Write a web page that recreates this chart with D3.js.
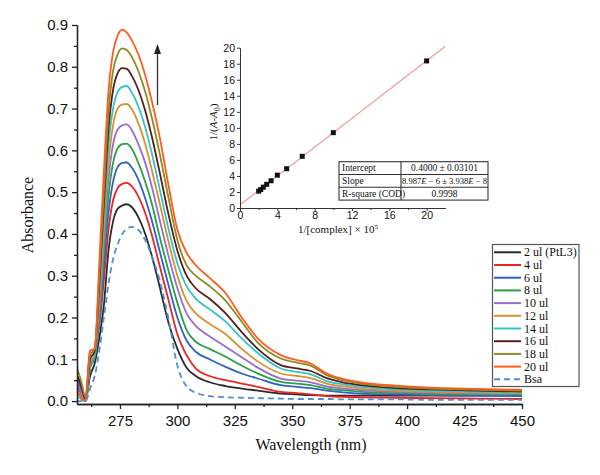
<!DOCTYPE html>
<html>
<head>
<meta charset="utf-8">
<script src="https://cdn.jsdelivr.net/npm/d3@7"></script>
<style>
  body { margin: 0; background: #fff; }
  svg { display: block; font-family: "Liberation Serif", "DejaVu Serif", serif; }
</style>
</head>
<body>
<svg id="chart" width="600" height="475"></svg>
<script>
'use strict';

// wavelength grid (nm) shared by all spectra
const wavelengths = [256, 258, 260, 262, 264, 266, 268, 270, 272, 274, 276, 278, 280, 283, 286, 289, 292, 296, 300, 304, 308, 314, 321, 328, 335, 345, 352, 358, 365, 372, 380, 395, 410, 430, 450];

const seriesNames = ["2 ul (PtL3)", "4 ul", "6 ul", "8 ul", "10 ul", "12 ul", "14 ul", "16 ul", "18 ul", "20 ul", "Bsa"];
const seriesColors = ["#2b2b2b", "#ec2424", "#2f62c2", "#27a046", "#9a6ccc", "#d8922c", "#31c4c8", "#5a1c1c", "#8b8b26", "#ff5b1c", "#4b8fd8"];

const abs2 = [.04, .02, .0, .06, .09, .15, .23, .36, .43, .46, .468, .471, .465, .44, .4, .345, .28, .19, .125, .08, .06, .045, .036, .03, .025, .018, .016, .014, .013, .013, .013, .013, .013, .013, .013];
const abs4 = [.058, .03, .005, .12, .125, .18, .29, .41, .48, .51, .52, .522, .515, .49, .45, .395, .33, .245, .16, .11, .078, .06, .05, .042, .034, .022, .019, .016, .012, .01, .009, .008, .007, .006, .005];
const abs6 = [.062, .035, .005, .08, .105, .19, .32, .45, .525, .56, .57, .571, .56, .53, .485, .43, .365, .28, .2, .145, .118, .1, .082, .066, .054, .038, .034, .031, .025, .021, .018, .016, .014, .013, .012];
const abs8 = [.03, .01, .0, .08, .105, .2, .35, .49, .57, .605, .615, .616, .605, .57, .525, .47, .4, .315, .235, .17, .142, .125, .106, .085, .066, .046, .042, .038, .03, .026, .022, .019, .017, .016, .015];
const abs10 = [.05, .02, .0, .085, .11, .22, .38, .53, .615, .65, .66, .662, .65, .615, .57, .51, .44, .35, .27, .21, .18, .155, .13, .105, .08, .054, .049, .045, .035, .03, .026, .022, .02, .018, .017];
const abs12 = [.03, .01, .0, .09, .11, .24, .41, .57, .66, .7, .71, .711, .7, .665, .615, .55, .48, .385, .3, .24, .21, .185, .16, .125, .095, .066, .06, .055, .042, .035, .03, .025, .022, .02, .019];
const abs14 = [.012, .005, .0, .09, .115, .26, .44, .61, .7, .74, .752, .754, .74, .705, .655, .59, .515, .415, .33, .275, .245, .22, .19, .15, .115, .078, .07, .064, .048, .04, .034, .028, .025, .022, .021];
const abs16 = [.066, .04, .005, .1, .12, .28, .47, .65, .745, .785, .797, .795, .78, .745, .695, .63, .555, .45, .36, .3, .27, .245, .21, .165, .125, .086, .078, .072, .055, .045, .038, .031, .028, .025, .023];
const abs18 = [.084, .05, .01, .11, .125, .3, .5, .69, .79, .83, .844, .84, .825, .79, .74, .675, .6, .49, .385, .325, .3, .275, .24, .19, .14, .102, .092, .085, .062, .05, .042, .034, .03, .027, .025];
const abs20 = [.025, .01, .0, .12, .125, .33, .55, .74, .835, .875, .889, .882, .865, .83, .78, .715, .64, .52, .41, .355, .325, .295, .258, .2, .15, .11, .098, .09, .066, .053, .045, .037, .032, .029, .027];
const absBsa = [.0, .0, .0, .03, .06, .12, .2, .28, .34, .375, .4, .412, .417, .41, .385, .345, .295, .2, .085, .035, .02, .012, .009, .008, .007, .006, .005, .005, .005, .004, .004, .004, .003, .003, .003];

const spectra = [abs2, abs4, abs6, abs8, abs10, abs12, abs14, abs16, abs18, abs20, absBsa];

const xTicks = [275, 300, 325, 350, 375, 400, 425, 450];
const yTicks = [0, 0.1, 0.2, 0.3, 0.4, 0.5, 0.6, 0.7, 0.8, 0.9];

// inset: double reciprocal plot
const insetX = [2, 2.22, 2.5, 2.86, 3.33, 4, 5, 6.67, 10, 20];
const insetY = [2.1, 2.3, 2.6, 2.95, 3.4, 4.1, 4.9, 6.45, 9.4, 18.35];
const fitIntercept = 0.4;
const fitSlope = 0.8987;
const insetXTicks = [0, 4, 8, 12, 16, 20];
const insetYTicks = [0, 2, 4, 6, 8, 10, 12, 14, 16, 18, 20];
const tableRows = [
  ["Intercept", "0.4000 ± 0.03101"],
  ["Slope", "slope"],
  ["R-square (COD)", "0.9998"]
];

const svg = d3.select("#chart");
svg.append("rect").attr("width", 600).attr("height", 475).attr("fill", "#fff");

const x = d3.scaleLinear().domain([256.3, 450]).range([77, 522]);
const y = d3.scaleLinear().domain([-0.007, 0.9]).range([404, 25]);

svg.append("defs").append("clipPath").attr("id", "plotClip")
  .append("rect").attr("x", 77).attr("y", 20).attr("width", 446).attr("height", 384);

const line = d3.line()
  .x((d, i) => x(wavelengths[i]))
  .y(d => y(d))
  .curve(d3.curveMonotoneX);

const curves = svg.append("g").attr("clip-path", "url(#plotClip)");
spectra.forEach((vals, i) => {
  curves.append("path")
    .attr("d", line(vals))
    .attr("fill", "none")
    .attr("stroke", seriesColors[i])
    .attr("stroke-width", 1.8)
    .attr("stroke-dasharray", i === 10 ? "6,4" : null);
});

// main axes
const xAxis = svg.append("g").attr("transform", "translate(0,404)")
  .call(d3.axisBottom(x).tickValues(xTicks).tickSize(5).tickSizeOuter(0).tickPadding(6));
svg.append("g").attr("transform", "translate(0,404)")
  .call(d3.axisBottom(x).tickValues(xTicks.map(v => v - 12.5)).tickSize(3).tickFormat("").tickSizeOuter(0));
const yAxis = svg.append("g").attr("transform", "translate(77,0)")
  .call(d3.axisLeft(y).tickValues(yTicks).tickFormat(d3.format(".1f")).tickSize(5).tickSizeOuter(0).tickPadding(4));
svg.append("g").attr("transform", "translate(77,0)")
  .call(d3.axisLeft(y).tickValues(yTicks.slice(0, 9).map(v => v + 0.05)).tickSize(3).tickFormat("").tickSizeOuter(0));
svg.selectAll(".domain, .tick line").attr("stroke", "#222").attr("stroke-width", 1.3);
xAxis.selectAll("text").attr("font-size", 15).attr("fill", "#111");
yAxis.selectAll("text").attr("font-size", 15).attr("fill", "#111");

svg.append("text").attr("x", 311).attr("y", 450).attr("text-anchor", "middle")
  .attr("font-size", 16).attr("fill", "#111").text("Wavelength (nm)");
svg.append("text").attr("transform", "translate(33,215) rotate(-90)").attr("text-anchor", "middle")
  .attr("font-size", 16).attr("fill", "#111").text("Absorbance");

// arrow showing increasing concentration
svg.append("line").attr("x1", 157.5).attr("x2", 157.5).attr("y1", 105).attr("y2", 52)
  .attr("stroke", "#333").attr("stroke-width", 1.3);
svg.append("path").attr("d", "M157.5,44 L154,54 L161,54 Z").attr("fill", "#222");

// legend
const legend = svg.append("g");
legend.append("rect").attr("x", 492.5).attr("y", 244.5).attr("width", 86.5).attr("height", 142)
  .attr("fill", "#fff").attr("stroke", "#555").attr("stroke-width", 1.2);
seriesNames.forEach((name, i) => {
  const ly = 252.3 + i * 12.7;
  legend.append("line").attr("x1", 494).attr("x2", 521).attr("y1", ly).attr("y2", ly)
    .attr("stroke", seriesColors[i]).attr("stroke-width", 2)
    .attr("stroke-dasharray", i === 10 ? "6,4" : null);
  legend.append("text").attr("x", 524).attr("y", ly + 4).attr("font-size", 12).attr("fill", "#111").text(name);
});

// inset plot
const xi = d3.scaleLinear().domain([0, 22]).range([240, 445.3]);
const yi = d3.scaleLinear().domain([0, 20]).range([208, 47.7]);
const inset = svg.append("g");

inset.append("line")
  .attr("x1", xi(0)).attr("y1", yi(fitIntercept))
  .attr("x2", xi(22)).attr("y2", yi(fitIntercept + fitSlope * 22))
  .attr("stroke", "#f19a9a").attr("stroke-width", 1.2);

const ixAxis = inset.append("g").attr("transform", "translate(0,208)")
  .call(d3.axisBottom(xi).tickValues(insetXTicks).tickSize(3).tickSizeOuter(0).tickPadding(1));
inset.append("g").attr("transform", "translate(0,208)")
  .call(d3.axisBottom(xi).tickValues([2, 6, 10, 14, 18]).tickSize(2).tickFormat("").tickSizeOuter(0));
const iyAxis = inset.append("g").attr("transform", "translate(240,0)")
  .call(d3.axisLeft(yi).tickValues(insetYTicks).tickSize(3).tickSizeOuter(0).tickPadding(2));
inset.selectAll(".domain, .tick line").attr("stroke", "#333").attr("stroke-width", 1);
ixAxis.selectAll("text").attr("font-size", 10.5).attr("fill", "#111");
iyAxis.selectAll("text").attr("font-size", 10.5).attr("fill", "#111");

inset.selectAll("rect.pt").data(insetX).enter().append("rect")
  .attr("class", "pt")
  .attr("x", (d, i) => xi(d) - 2.5).attr("y", (d, i) => yi(insetY[i]) - 2.5)
  .attr("width", 5).attr("height", 5).attr("fill", "#111");

const xl = inset.append("text").attr("x", 338).attr("y", 233).attr("text-anchor", "middle")
  .attr("font-size", 11).attr("fill", "#111");
xl.append("tspan").text("1/[complex] × 10");
xl.append("tspan").attr("dy", -4).attr("font-size", 7).text("5");

const yl = inset.append("text").attr("transform", "translate(217,122) rotate(-90)")
  .attr("text-anchor", "middle").attr("font-size", 11).attr("fill", "#111");
yl.append("tspan").text("1/(");
yl.append("tspan").attr("font-style", "italic").text("A");
yl.append("tspan").text("-");
yl.append("tspan").attr("font-style", "italic").text("A");
yl.append("tspan").attr("dy", 3).attr("font-size", 8).text("0");
yl.append("tspan").attr("dy", -3).text(")");

// fit results table
const tbl = inset.append("g");
const tx0 = 339, tx1 = 401, tx2 = 488, ty0 = 161.7, rowH = 12.8;
tbl.append("rect").attr("x", tx0).attr("y", ty0).attr("width", tx2 - tx0).attr("height", rowH * 3)
  .attr("fill", "#fff").attr("stroke", "#333").attr("stroke-width", 1.1);
tbl.append("line").attr("x1", tx1).attr("x2", tx1).attr("y1", ty0).attr("y2", ty0 + rowH * 3)
  .attr("stroke", "#333").attr("stroke-width", 1.1);
[1, 2].forEach(r => {
  tbl.append("line").attr("x1", tx0).attr("x2", tx2).attr("y1", ty0 + r * rowH).attr("y2", ty0 + r * rowH)
    .attr("stroke", "#333").attr("stroke-width", 1.1);
});
tableRows.forEach((row, r) => {
  const ty = ty0 + r * rowH + 9.5;
  tbl.append("text").attr("x", tx0 + 3).attr("y", ty).attr("font-size", 9.5).attr("fill", "#111").text(row[0]);
  const val = tbl.append("text").attr("x", (tx1 + tx2) / 2).attr("y", ty).attr("text-anchor", "middle")
    .attr("font-size", 9.5).attr("fill", "#111");
  if (row[1] === "slope") {
    val.attr("font-size", 8.6);
    val.append("tspan").text("8.987");
    val.append("tspan").attr("font-style", "italic").text("E");
    val.append("tspan").text(" − 6 ± 3.938");
    val.append("tspan").attr("font-style", "italic").text("E");
    val.append("tspan").text(" − 8");
  } else {
    val.text(row[1]);
  }
});
</script>
</body>
</html>
